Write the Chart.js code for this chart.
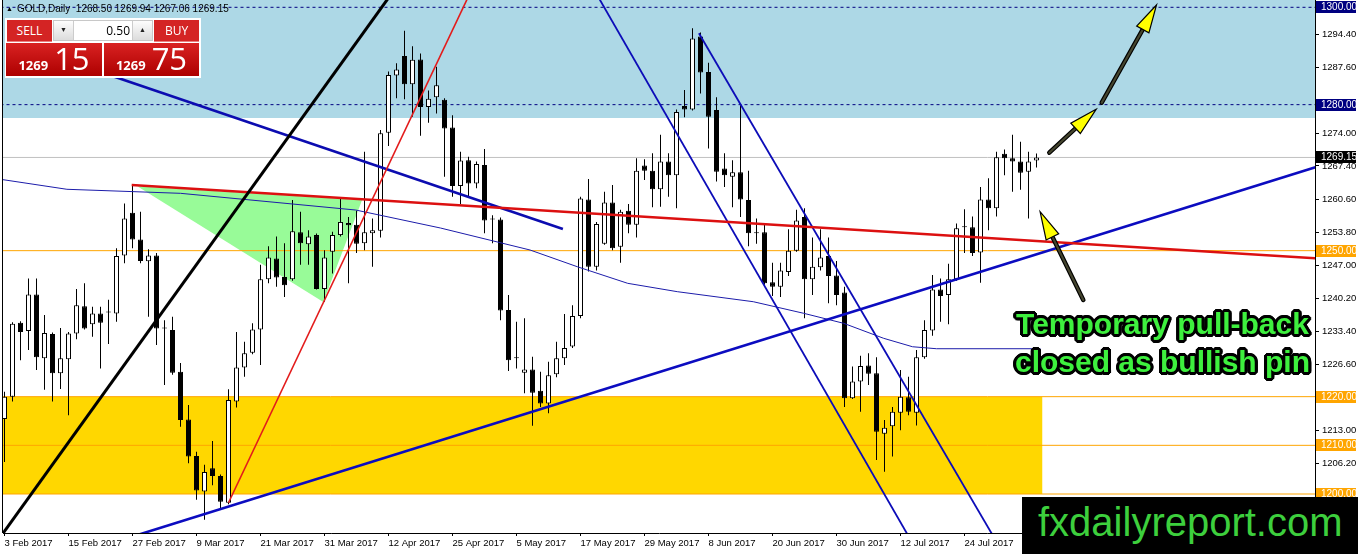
<!DOCTYPE html>
<html><head><meta charset="utf-8">
<script src="https://cdn.jsdelivr.net/npm/chart.js@4.4.1/dist/chart.umd.min.js"></script>
<style>
html,body{margin:0;padding:0;background:#fff;width:1358px;height:554px;overflow:hidden;}
#wrap{position:absolute;left:0;top:0;width:1358px;height:554px;}
canvas{position:absolute;left:0;top:0;}
#hdr{position:absolute;left:6px;top:3px;font:10px 'Liberation Sans',Arial,sans-serif;color:#000;white-space:pre;}
#hdr .tri{font-size:7px;vertical-align:1px;margin-right:4px;}
#panel{position:absolute;left:5px;top:18px;width:196px;height:60px;background:#fff;}
.btn{position:absolute;top:2px;height:22px;width:45px;background:#d42424;color:#fff;font:12px 'Open Sans',sans-serif;line-height:21px;text-align:center;box-sizing:border-box;border-bottom:1px solid #e98080;}
.sell{left:2px;}.buy{left:149px;}
.spin{position:absolute;left:48px;top:2px;width:100px;height:21px;background:#fff;border:1px solid #c8c8c8;box-sizing:border-box;}
.sb{position:absolute;top:0;width:19px;height:19px;background:linear-gradient(#fdfdfd,#dcdcdc);font-size:7px;text-align:center;line-height:19px;color:#222;}
.sb.dn{left:0;border-right:1px solid #ccc;}.sb.up{right:0;border-left:1px solid #ccc;}
.val{position:absolute;left:22px;width:54px;text-align:right;font:12px 'Open Sans',sans-serif;line-height:19px;color:#000;}
.price{position:absolute;top:25px;height:33px;background:linear-gradient(#d92222,#ad0000);display:flex;justify-content:center;align-items:baseline;color:#fff;}
.pl{left:1px;width:96px;}.pr{left:99px;width:95px;}
.s{font:bold 13px 'Open Sans',sans-serif;margin-right:6px;}
.b{font:31px 'Open Sans',sans-serif;line-height:31px;}
#note{position:absolute;left:1010px;top:305px;width:305px;text-align:center;font:bold 30px 'Liberation Sans',Arial,sans-serif;line-height:38px;color:#3ef03e;
text-shadow:2px 0 0 #000,-2px 0 0 #000,0 2px 0 #000,0 -2px 0 #000,2px 2px 0 #000,-2px -2px 0 #000,2px -2px 0 #000,-2px 2px 0 #000,3px 0 0 #000,-3px 0 0 #000,0 3px 0 #000,0 -3px 0 #000,3px 1px 0 #000,-3px 1px 0 #000,1px 3px 0 #000,-1px -3px 0 #000,3px -1px 0 #000,-3px -1px 0 #000,1px -3px 0 #000,-1px 3px 0 #000;}
#wm{position:absolute;left:1022px;top:497px;width:336px;height:57px;background:#000;color:#3dcf3d;font:40px 'Liberation Sans',Arial,sans-serif;line-height:50px;padding-left:16px;box-sizing:border-box;}
</style></head><body>
<div id="wrap"><canvas id="c" width="1358" height="554"></canvas></div>
<div id="hdr"><span class="tri">▲</span>GOLD,Daily  1268.50 1269.94 1267.06 1269.15</div>
<div id="panel">
  <div class="btn sell">SELL</div>
  <div class="spin"><div class="sb dn">▼</div><div class="val">0.50</div><div class="sb up">▲</div></div>
  <div class="btn buy">BUY</div>
  <div class="price pl"><span class="s">1269</span><span class="b">15</span></div>
  <div class="price pr"><span class="s">1269</span><span class="b">75</span></div>
</div>
<div id="note">Temporary pull-back<br>closed as bullish pin</div>
<div id="wm">fxdailyreport.com</div>
<script>
// ---------- data ----------
const tickLabels = ['3 Feb 2017','15 Feb 2017','27 Feb 2017','9 Mar 2017','21 Mar 2017','31 Mar 2017','12 Apr 2017','25 Apr 2017','5 May 2017','17 May 2017','29 May 2017','8 Jun 2017','20 Jun 2017','30 Jun 2017','12 Jul 2017','24 Jul 2017'];
const barsPerTick = 8;
const opens  = [1215.4,1220.0,1235.2,1233.5,1241.0,1227.9,1232.9,1224.8,1227.7,1233.0,1238.6,1234.9,1237.1,1237.3,1237.1,1249.0,1257.8,1252.3,1247.8,1249.0,1234.0,1233.7,1225.1,1215.3,1207.8,1200.5,1205.3,1203.7,1198.2,1219.0,1226.0,1229.0,1233.8,1244.1,1248.4,1244.6,1244.1,1253.8,1251.3,1253.2,1242.1,1249.8,1253.2,1255.7,1255.3,1251.5,1253.6,1254.1,1274.2,1286.0,1290.0,1284.2,1289.3,1279.5,1281.5,1281.0,1275.3,1263.3,1268.6,1263.8,1267.6,1256.4,1256.4,1237.8,1227.9,1224.9,1225.6,1221.2,1218.6,1224.6,1227.9,1230.3,1236.6,1260.5,1246.7,1251.4,1259.9,1250.8,1258.2,1255.3,1267.5,1266.4,1262.6,1268.3,1265.5,1279.7,1279.0,1294.0,1286.7,1278.9,1266.9,1265.2,1266.1,1260.4,1253.6,1253.8,1243.5,1242.6,1245.6,1250.0,1256.9,1244.1,1246.6,1248.9,1244.9,1241.4,1219.7,1223.1,1226.4,1224.8,1212.4,1213.9,1216.7,1219.9,1216.7,1228.1,1233.6,1242.0,1240.9,1244.1,1255.0,1254.8,1249.6,1260.5,1258.7,1269.9,1269.0,1268.3,1266.2,1268.50];
const highs  = [1221.0,1235.3,1235.5,1244.3,1244.3,1236.8,1233.2,1234.1,1233.3,1242.1,1243.3,1238.5,1238.5,1239.9,1250.5,1259.7,1263.5,1258.0,1250.3,1249.5,1235.7,1236.4,1226.9,1218.3,1208.7,1206.0,1210.9,1204.0,1221.5,1233.3,1231.3,1235.1,1247.1,1250.9,1252.9,1251.5,1260.4,1258.0,1254.2,1253.5,1250.1,1253.9,1260.8,1256.9,1258.2,1270.3,1256.6,1274.8,1286.8,1288.5,1295.2,1292.0,1290.5,1282.9,1287.8,1281.3,1277.8,1270.3,1269.3,1268.3,1270.9,1257.3,1256.8,1240.9,1235.4,1236.1,1228.2,1225.1,1227.2,1231.3,1237.0,1238.8,1261.1,1264.7,1255.9,1262.1,1263.5,1258.4,1259.6,1269.0,1268.8,1270.0,1273.8,1270.0,1279.0,1283.0,1295.7,1294.8,1288.6,1281.5,1270.0,1268.6,1279.9,1266.4,1256.6,1255.3,1247.5,1247.5,1254.4,1258.4,1258.7,1252.7,1254.4,1252.7,1247.9,1242.6,1226.2,1228.4,1228.9,1228.1,1215.2,1217.9,1225.5,1224.1,1229.6,1235.7,1245.0,1244.3,1247.3,1255.6,1258.5,1257.0,1263.1,1264.9,1270.3,1270.8,1273.8,1272.4,1270.3,1269.94];
const lows   = [1206.6,1219.0,1227.5,1229.6,1225.5,1221.4,1219.0,1221.6,1216.2,1231.8,1233.8,1232.3,1225.8,1230.8,1235.4,1247.4,1250.5,1247.4,1236.4,1230.6,1222.4,1224.5,1213.8,1206.3,1198.8,1194.7,1201.8,1196.7,1197.9,1217.8,1224.1,1228.7,1226.5,1243.3,1242.6,1240.5,1243.8,1247.1,1247.1,1242.0,1239.5,1245.3,1252.9,1243.3,1249.5,1250.1,1246.7,1252.7,1271.5,1281.3,1281.1,1277.5,1273.6,1276.3,1278.2,1265.2,1261.1,1259.6,1261.2,1262.8,1253.6,1251.5,1235.7,1225.3,1225.8,1220.7,1214.0,1217.9,1216.6,1224.0,1226.5,1230.0,1236.1,1245.7,1245.9,1251.2,1250.1,1247.5,1253.6,1252.7,1264.5,1258.9,1259.0,1261.1,1258.7,1277.4,1278.8,1282.3,1271.0,1264.2,1263.1,1258.9,1256.9,1250.9,1251.4,1243.0,1240.7,1240.5,1244.8,1249.8,1236.1,1240.9,1245.9,1239.2,1238.8,1217.9,1219.5,1216.9,1222.4,1207.0,1204.6,1207.7,1213.1,1216.2,1214.1,1227.8,1232.5,1235.4,1234.9,1243.8,1249.5,1248.9,1243.4,1254.2,1257.0,1265.5,1262.1,1262.5,1256.6,1267.06];
const closes = [1220.0,1235.0,1233.3,1241.0,1228.1,1233.1,1224.8,1227.9,1233.0,1238.8,1234.0,1237.1,1235.2,1237.3,1248.9,1256.6,1252.3,1247.9,1249.0,1234.0,1234.0,1224.9,1215.2,1207.7,1200.7,1204.5,1203.7,1198.4,1219.3,1226.0,1228.9,1233.8,1244.1,1248.6,1244.5,1242.9,1254.0,1251.5,1252.9,1242.1,1248.6,1253.2,1255.9,1255.2,1251.4,1253.8,1254.2,1274.1,1286.1,1287.2,1284.2,1289.2,1279.5,1281.2,1284.0,1275.1,1263.3,1268.5,1263.8,1267.8,1256.2,1256.4,1237.7,1227.5,1227.9,1225.6,1220.8,1218.6,1224.4,1227.9,1230.0,1236.6,1260.7,1246.7,1255.5,1259.9,1250.5,1258.0,1255.3,1266.4,1266.4,1262.6,1268.3,1265.5,1278.5,1279.0,1293.6,1286.6,1277.5,1266.2,1265.5,1266.1,1260.5,1253.6,1253.6,1243.3,1242.6,1245.9,1250.0,1256.2,1244.1,1246.7,1248.6,1244.8,1240.9,1219.7,1223.1,1226.3,1224.7,1212.8,1213.6,1216.9,1220.0,1216.9,1228.1,1233.7,1242.0,1240.7,1244.1,1254.6,1254.8,1249.5,1260.5,1258.7,1269.2,1269.0,1268.3,1266.0,1268.3,1269.15];
const priceTicks = [1294.40,1287.60,1274.00,1267.40,1260.60,1253.80,1247.00,1240.20,1233.40,1226.60,1213.00,1206.20];
const levelValues = [1300.00,1280.00,1269.15,1250.00,1220.00,1210.00,1200.00];
const maBars   = [-0.5,7.8,22,43.9,54.5,65.7,71.6,77.9,84.1,93.6,99.9,104.9,109.9,113.5,116.5,129.5];
const maValues = [1264.66,1262.61,1261.78,1258.35,1254.65,1250.13,1246.70,1243.29,1241.57,1239.51,1237.13,1235.07,1231.99,1230.26,1229.85,1229.85];
const blueZone = [1277.25];
const yellowZone = [1220, 1200];
const yellowZoneEndBar = 129.75;
const triangleBars = [16.6, 39.85, 44.7];
const triangleValues = [1263.24, 1239.45, 1260.41];
const blackTrendBars = [-2, 52],    blackTrendValues = [1187.79, 1311.07];
const redRiseBars = [28.0, 60],     redRiseValues = [1198.2, 1309.2];
const redFlatBars = [15.9, 166],    redFlatValues = [1263.49, 1248.21];
const blueDownBars = [5, 69.8],     blueDownValues = [1290.63, 1254.45];
const blueUpBars = [15, 166],       blueUpValues = [1190.75, 1268.25];
const channelABars = [86.8, 125],   channelAValues = [1294.66, 1187.38];
const channelBBars = [73, 115],     channelBValues = [1305.6, 1185.62];
const arrowTailBars = [134.85, 130.6, 137.15], arrowTailValues = [1239.86, 1270.13, 1280.40];
const arrowTipBars  = [129.45, 136.45, 144.0], arrowTipValues  = [1258.0, 1279.04, 1300.47];

// ---------- build ----------
const pts = (xs, ys) => xs.map((x, i) => ({x, y: ys[i]}));
const barIdx = opens.map((_, i) => i);
const wickData = barIdx.map(i => ({x: i, y: [lows[i], highs[i]]}));
const bodyData = barIdx.map(i => ({x: i, y: [Math.min(opens[i], closes[i]), Math.max(opens[i], closes[i])]}));
const bodyFill = barIdx.map(i => closes[i] > opens[i] ? '#ffffff' : '#000000');
const X0 = -0.1875, X1 = X0 + 164;
const Y0 = 1191.99, Y1 = 1301.5;

const levelStyle = {
  1300: {c: '#000080', dash: [3, 3], box: '#000080'},
  1280: {c: '#000080', dash: [3, 3], box: '#000080'},
  1269.15: {c: '#c0c0c0', dash: [], box: '#000000'},
  1250: {c: '#ffa500', dash: [], box: '#ffa500'},
  1220: {c: '#ffa500', dash: [], box: '#ffa500'},
  1210: {c: '#ffa500', dash: [], box: '#ffa500'},
  1200: {c: '#ffa500', dash: [], box: '#ffa500'}
};

const line = (data, color, width, order, extra) => Object.assign({
  type: 'line', data, borderColor: color, borderWidth: width, pointRadius: 0,
  fill: false, order, clip: 0, tension: 0
}, extra || {});

const datasets = [
  line(pts([-5, 170], [blueZone[0], blueZone[0]]), 'rgba(0,0,0,0)', 0, 20, {fill: 'end', backgroundColor: '#add8e6'}),
  line(pts([-5, yellowZoneEndBar], [yellowZone[0], yellowZone[0]]), 'rgba(0,0,0,0)', 0, 20, {fill: {value: yellowZone[1]}, backgroundColor: '#ffd700'}),
  line(pts([triangleBars[0], triangleBars[2]], [triangleValues[0], triangleValues[2]]), 'rgba(0,0,0,0)', 0, 19),
  line(pts(triangleBars, triangleValues), 'rgba(0,0,0,0)', 0, 19, {fill: '-1', backgroundColor: '#98fb98'}),
];
levelValues.forEach(v => {
  const st = levelStyle[v];
  datasets.push(line(pts([-5, 170], [v, v]), st.c, 1, 15, {borderDash: st.dash}));
});
datasets.push({type: 'bar', data: wickData, backgroundColor: '#000', borderWidth: 0, barThickness: 1, grouped: false, order: 8, inflateAmount: 0});
datasets.push({type: 'bar', data: bodyData, backgroundColor: bodyFill, borderColor: '#000', borderWidth: 1, borderSkipped: false, barThickness: 5, grouped: false, order: 7, minBarLength: 1, inflateAmount: 0});
datasets.push(line(pts(maBars, maValues), '#1c1caa', 1, 5));
datasets.push(line(pts(blackTrendBars, blackTrendValues), '#000000', 3, 2));
datasets.push(line(pts(redRiseBars, redRiseValues), '#e31b1b', 1.6, 2));
datasets.push(line(pts(redFlatBars, redFlatValues), '#dc1010', 2.6, 2));
datasets.push(line(pts(blueDownBars, blueDownValues), '#0c0cb0', 2.6, 2));
datasets.push(line(pts(blueUpBars, blueUpValues), '#0c0cc0', 2.6, 2));
datasets.push(line(pts(channelABars, channelAValues), '#0c0cb8', 1.8, 2));
datasets.push(line(pts(channelBBars, channelBValues), '#0c0cb8', 1.8, 2));

const overlay = {
  id: 'overlay',
  afterDatasetsDraw(chart) {
    const {ctx, scales: {x, y}} = chart;
    for (let k = 0; k < arrowTipBars.length; k++) {
      const x0 = x.getPixelForValue(arrowTailBars[k]), y0 = y.getPixelForValue(arrowTailValues[k]);
      const x1 = x.getPixelForValue(arrowTipBars[k]), y1 = y.getPixelForValue(arrowTipValues[k]);
      const a = Math.atan2(y1 - y0, x1 - x0);
      const L = 28, W = 7;
      const bx = x1 - L * Math.cos(a), by = y1 - L * Math.sin(a);
      ctx.save();
      ctx.lineCap = 'round';
      ctx.strokeStyle = '#000'; ctx.lineWidth = 4.5;
      ctx.beginPath(); ctx.moveTo(x0, y0); ctx.lineTo(bx + 4 * Math.cos(a), by + 4 * Math.sin(a)); ctx.stroke();
      ctx.strokeStyle = '#45452e'; ctx.lineWidth = 2.2;
      ctx.beginPath(); ctx.moveTo(x0, y0); ctx.lineTo(bx, by); ctx.stroke();
      ctx.beginPath(); ctx.moveTo(x1, y1);
      ctx.lineTo(bx + W * Math.sin(a), by - W * Math.cos(a));
      ctx.lineTo(bx - W * Math.sin(a), by + W * Math.cos(a));
      ctx.closePath();
      ctx.fillStyle = '#ffff00'; ctx.fill();
      ctx.lineWidth = 1.2; ctx.strokeStyle = '#000'; ctx.lineJoin = 'miter'; ctx.stroke();
      ctx.restore();
    }
  },
  afterDraw(chart) {
    const {ctx, scales: {y}, chartArea} = chart;
    ctx.save();
    ctx.fillStyle = '#000';
    ctx.fillRect(chartArea.left - 1, 0, 1, chartArea.bottom);
    ctx.font = "10px 'Liberation Sans', Arial, sans-serif";
    ctx.textBaseline = 'middle';
    levelValues.forEach(v => {
      const yy = Math.round(y.getPixelForValue(v));
      ctx.fillStyle = levelStyle[v].box;
      ctx.fillRect(chartArea.right + 1, yy - 6, 40, 12);
      ctx.fillStyle = '#fff';
      ctx.fillText(v.toFixed(2), chartArea.right + 6, yy + 0.5);
    });
    ctx.restore();
  }
};

new Chart(document.getElementById('c'), {
  type: 'bar',
  data: {datasets},
  options: {
    responsive: false, animation: false, devicePixelRatio: 1,
    layout: {padding: {left: 3, right: 0, top: 0, bottom: 0}},
    plugins: {legend: {display: false}, tooltip: {enabled: false}},
    events: [],
    scales: {
      x: {
        type: 'linear', min: X0, max: X1, offset: false, bounds: 'data',
        grid: {display: true, drawOnChartArea: false, drawTicks: true, tickLength: 3, color: '#000', offset: false},
        border: {display: true, color: '#000', width: 1},
        ticks: {
          autoSkip: false, maxRotation: 0, minRotation: 0, align: 'start', padding: 2,
          color: '#000', font: {family: "'Liberation Sans', Arial, sans-serif", size: 9.5},
          callback: (v, i) => tickLabels[i]
        },
        afterBuildTicks: s => { s.ticks = tickLabels.map((_, k) => ({value: k * barsPerTick})); },
        afterFit: s => { s.height = 21; s.paddingLeft = 0; s.paddingRight = 0; }
      },
      y: {
        type: 'linear', position: 'right', min: Y0, max: Y1, beginAtZero: false, bounds: 'data',
        grid: {display: true, drawOnChartArea: false, drawTicks: true, tickLength: 4, color: '#000'},
        border: {display: true, color: '#000', width: 1},
        ticks: {
          padding: 3, color: '#000', font: {family: "'Liberation Sans', Arial, sans-serif", size: 9.5},
          callback: v => Number(v).toFixed(2)
        },
        afterBuildTicks: s => { s.ticks = priceTicks.map(v => ({value: v})); },
        afterFit: s => { s.width = 43; s.paddingTop = 0; s.paddingBottom = 0; }
      }
    }
  },
  plugins: [overlay]
});
</script>
</body></html>
